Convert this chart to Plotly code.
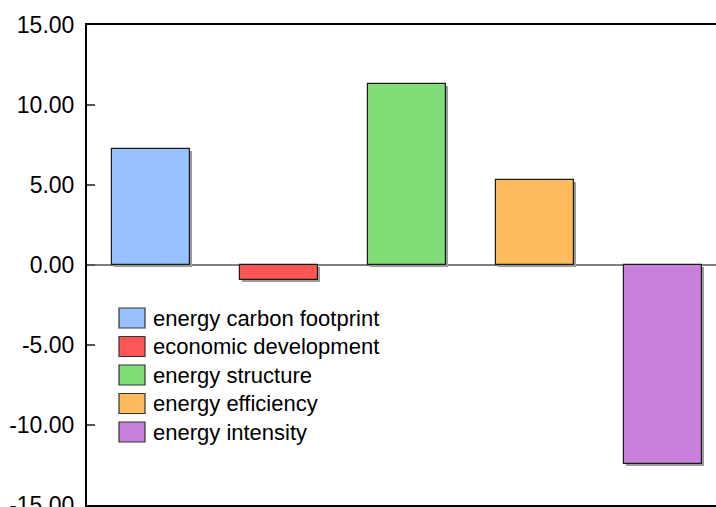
import plotly.graph_objects as go

categories = ["energy carbon footprint", "economic development", "energy structure",
              "energy efficiency", "energy intensity"]
values = [7.27, -0.94, 11.31, 5.32, -12.45]
colors = ["#99C0FF", "#FF5555", "#80DD78", "#FFBC5E", "#C880DB"]
tick_vals = [-15, -10, -5, 0, 5, 10, 15]
tick_text = [f"{v:.2f}" for v in tick_vals]

W, H = 716, 507
L, T, R, B = 87, 25, 0, 2
pw, ph = W - L - R, H - T - B
xpos = list(range(len(categories)))
px_per_cat = 128.0
x_range = [-0.5, -0.5 + pw / px_per_cat]
bar_w = 78 / px_per_cat

fig = go.Figure()
# shadow
sh_dx = 2 / px_per_cat
sh_dy = 2 * 30 / ph
fig.add_trace(go.Bar(
    x=[p + sh_dx for p in xpos], y=values, base=[-sh_dy] * len(values),
    width=bar_w, marker=dict(color="#9a9a9a", line=dict(width=0)),
    hoverinfo="skip", showlegend=False))
fig.add_trace(go.Bar(
    x=xpos, y=values, width=bar_w,
    marker=dict(color=colors, line=dict(color="#1a1a1a", width=1.2)),
    showlegend=False, hovertext=categories))

# custom legend
def px_x(p):
    return (p - L) / pw

def px_y(p):
    return 1 - (p - T) / ph

shapes = []
annotations = []
for i, (name, c) in enumerate(zip(categories, colors)):
    top = 308 + i * 28.5
    shapes.append(dict(type="rect", xref="paper", yref="paper",
                       x0=px_x(119), x1=px_x(145), y0=px_y(top + 20), y1=px_y(top),
                       fillcolor=c, line=dict(color="#333333", width=1.2)))
    annotations.append(dict(xref="paper", yref="paper", x=px_x(151), y=px_y(top + 10),
                            text=name, showarrow=False, xanchor="left", yanchor="middle",
                            font=dict(family="Liberation Sans, Arial", size=22, color="#000")))

fig.update_layout(
    width=W, height=H,
    margin=dict(l=L, r=R, t=T, b=B, pad=0, autoexpand=False),
    paper_bgcolor="white", plot_bgcolor="white",
    bargap=0, barmode="overlay",
    shapes=shapes, annotations=annotations,
    xaxis=dict(range=x_range, showticklabels=False, ticks="", showgrid=False, automargin=False,
               zeroline=False, showline=True, mirror=True, linecolor="#000", linewidth=2),
    yaxis=dict(range=[-15, 15], tickvals=tick_vals, ticktext=tick_text, automargin=False,
               ticks="inside", ticklen=8, tickcolor="#555", tickwidth=1.5,
               showgrid=False, showline=True, linecolor="#000", linewidth=2,
               zeroline=True, zerolinecolor="#808080", zerolinewidth=1.5,
               ticklabelstandoff=6, ticklabeloverflow="allow",
               tickfont=dict(family="Liberation Sans, Arial", size=23, color="#000")),
)

fig.write_html("out.html", config={"displayModeBar": False},
               post_script="document.body.style.margin='0';document.body.style.overflow='hidden';")
